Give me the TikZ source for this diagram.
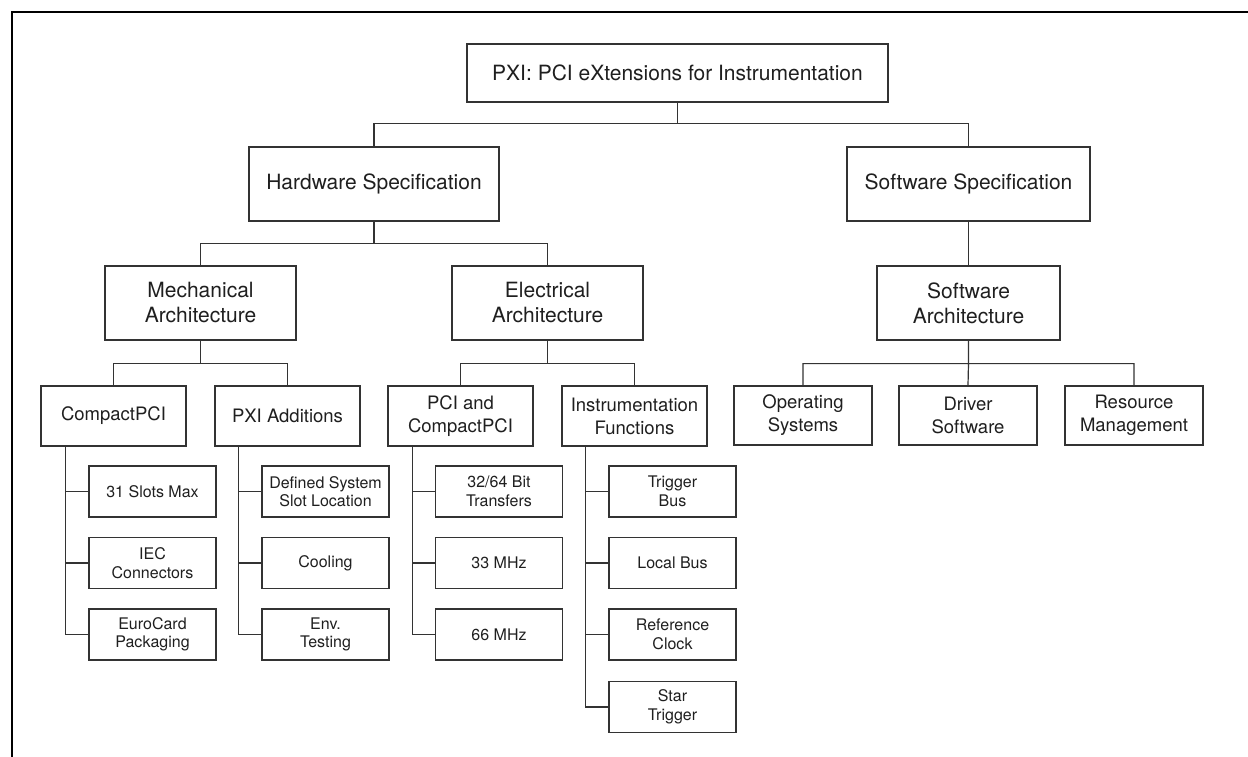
\documentclass[tikz,border=0pt]{standalone}
\usepackage{fontspec}
\setmainfont{TeX Gyre Heros}
\begin{document}
\begin{tikzpicture}[x=1pt,y=-1pt,
  box/.style={draw=black!80,line width=1.2pt,fill=white,inner sep=0pt,align=center,text=black!88},
  bigbox/.style={box,font=\fontsize{21}{25}\selectfont},
  midbox/.style={box,font=\fontsize{18.5}{23}\selectfont,minimum width=145pt,minimum height=60pt},
  leaf/.style={box,font=\fontsize{16}{18.5}\selectfont,minimum width=127pt,minimum height=51pt},
  conn/.style={draw=black!80,line width=1.2pt}]
\useasboundingbox (0,0) rectangle (1248,757);
\fill[white] (0,0) rectangle (1248,757);
\draw[line width=2.6pt,black] (12,760) -- (12,12) -- (1251,12);

% level 0
\node[bigbox,minimum width=421pt,minimum height=58pt] (root) at (677.5,73) {PXI: PCI eXtensions for Instrumentation};
% level 1
\node[bigbox,minimum width=250pt,minimum height=74pt] (hw) at (374,184) {Hardware Specification};
\node[bigbox,minimum width=243pt,minimum height=74pt] (sw) at (968.5,184) {Software Specification};
% level 2
\node[bigbox,minimum width=191pt,minimum height=74pt] (mech) at (200.5,303) {Mechanical\\Architecture};
\node[bigbox,minimum width=191pt,minimum height=74pt] (elec) at (547.5,303) {Electrical\\Architecture};
\node[bigbox,minimum width=183pt,minimum height=74pt] (swa) at (968.5,303) {Software\\Architecture};
% level 3
\node[midbox] (cpci) at (113.5,416) {CompactPCI};
\node[midbox] (pxia) at (287.5,416) {PXI Additions};
\node[midbox] (pci) at (460.5,416) {PCI and\\CompactPCI};
\node[midbox] (inst) at (634.5,416) {Instrumentation\\Functions};
\node[midbox,minimum width=138pt,minimum height=59pt] (os) at (803,415.5) {Operating\\Systems};
\node[midbox,minimum width=138pt,minimum height=59pt] (drv) at (968,415.5) {Driver\\Software};
\node[midbox,minimum width=138pt,minimum height=59pt] (res) at (1134,415.5) {Resource\\Management};
% leaves
\node[leaf] (a1) at (152.5,491.5) {31 Slots Max};
\node[leaf] (a2) at (152.5,563) {IEC\\Connectors};
\node[leaf] (a3) at (152.5,634.5) {EuroCard\\Packaging};
\node[leaf] (b1) at (325.5,491.5) {Defined System\\Slot Location};
\node[leaf] (b2) at (325.5,563) {Cooling};
\node[leaf] (b3) at (325.5,634.5) {Env.\\Testing};
\node[leaf] (c1) at (499,491.5) {32/64 Bit\\Transfers};
\node[leaf] (c2) at (499,563) {33 MHz};
\node[leaf] (c3) at (499,634.5) {66 MHz};
\node[leaf] (d1) at (672.5,491.5) {Trigger\\Bus};
\node[leaf] (d2) at (672.5,563) {Local Bus};
\node[leaf] (d3) at (672.5,634.5) {Reference\\Clock};
\node[leaf] (d4) at (672.5,707) {Star\\Trigger};

% connectors
\draw[conn] (root.south) -- ++(0,21) coordinate (r0) -| (hw.north) (r0) -| (sw.north);
\draw[conn] (hw.south) -- ++(0,22) coordinate (h0) -| (mech.north) (h0) -| (elec.north);
\draw[conn] (sw.south) -- (swa.north);
\draw[conn] (mech.south) -- ++(0,23) coordinate (m0) -| (cpci.north) (m0) -| (pxia.north);
\draw[conn] (elec.south) -- ++(0,23) coordinate (e0) -| (pci.north) (e0) -| (inst.north);
\draw[conn] (swa.south) -- ++(0,23) coordinate (s0) -| (os.north) (s0) -| (res.north) (s0) -- (drv.north);

\coordinate (sa) at ([xshift=25pt]cpci.south west);
\coordinate (sb) at ([xshift=24pt]pxia.south west);
\coordinate (sc) at ([xshift=25pt]pci.south west);
\coordinate (sd) at ([xshift=24pt]inst.south west);
\draw[conn] (sa) |- (a1.west) (sa) |- (a2.west) (sa) |- (a3.west);
\draw[conn] (sb) |- (b1.west) (sb) |- (b2.west) (sb) |- (b3.west);
\draw[conn] (sc) |- (c1.west) (sc) |- (c2.west) (sc) |- (c3.west);
\draw[conn] (sd) |- (d1.west) (sd) |- (d2.west) (sd) |- (d3.west) (sd) |- (d4.west);
\end{tikzpicture}
\end{document}
